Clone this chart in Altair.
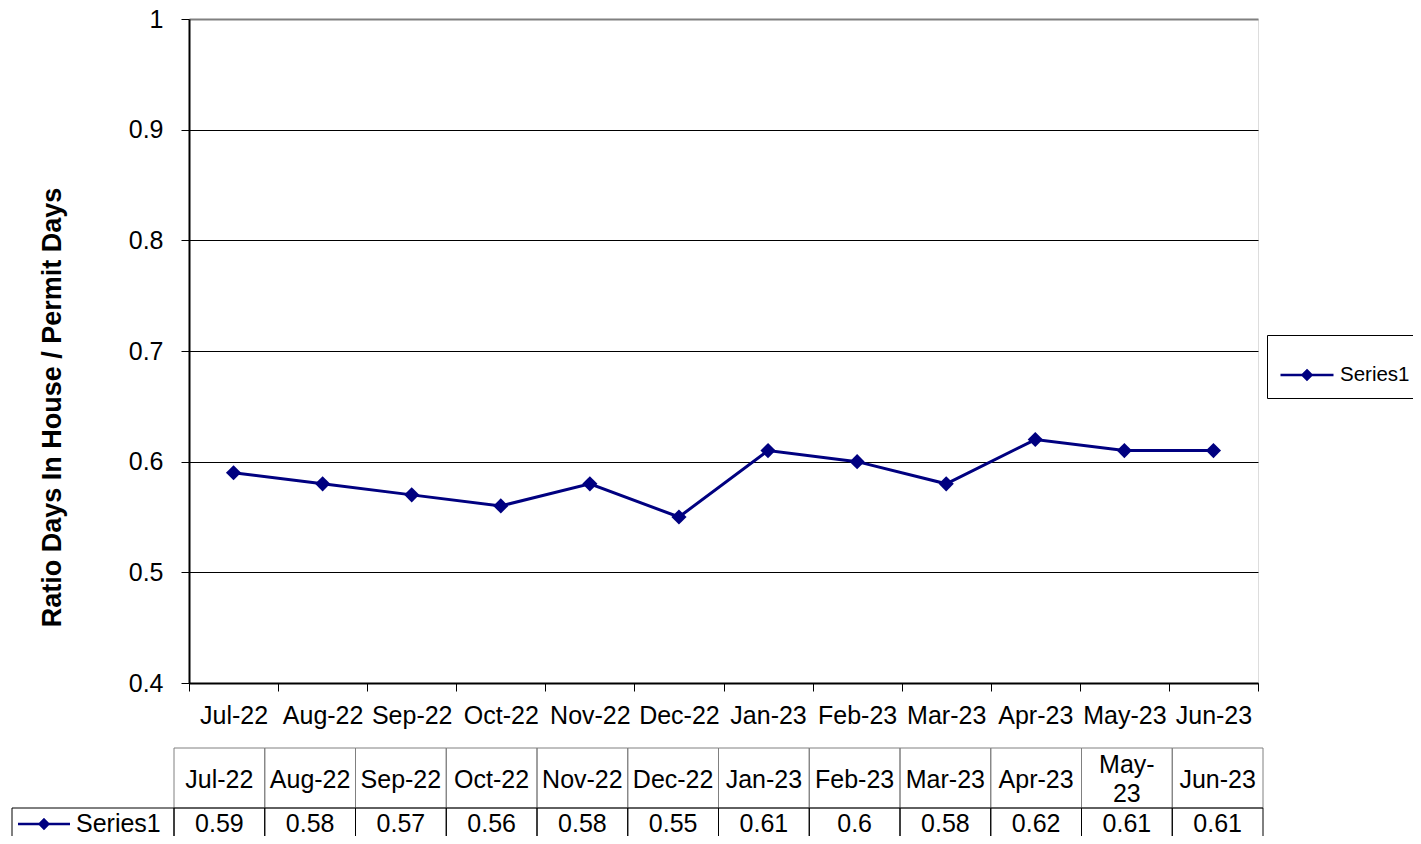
import altair as alt
import pandas as pd

months = ["Jul-22", "Aug-22", "Sep-22", "Oct-22", "Nov-22", "Dec-22",
          "Jan-23", "Feb-23", "Mar-23", "Apr-23", "May-23", "Jun-23"]
values = [0.59, 0.58, 0.57, 0.56, 0.58, 0.55, 0.61, 0.60, 0.58, 0.62, 0.61, 0.61]
table_headers = ["Jul-22", "Aug-22", "Sep-22", "Oct-22", "Nov-22", "Dec-22",
                 "Jan-23", "Feb-23", "Mar-23", "Apr-23", "May-\n23", "Jun-23"]
y_ticks = [0.4, 0.5, 0.6, 0.7, 0.8, 0.9, 1.0]
series_name = "Series1"
y_title = "Ratio Days In House / Permit Days"

NAVY = "#000080"
FONT = "Liberation Sans"
KEY_PATH = "M-1,0H1M0,-0.17L0.17,0L0,0.17L-0.17,0Z"

df = pd.DataFrame({"month": months, "value": values,
                   "header": table_headers, "series": series_name})
base = alt.Chart(df)

x_plot = alt.X("month:N", sort=months, title=None,
               scale=alt.Scale(type="band", paddingInner=0, paddingOuter=0),
               axis=alt.Axis(labelAngle=0, labelFontSize=25, labelFont=FONT,
                             labelColor="black", tickBand="extent", tickSize=8,
                             tickColor="black", domainColor="black", domainWidth=2,
                             labelPadding=12, labelBaseline="top", grid=False))
y_plot = alt.Y("value:Q", title=y_title,
               scale=alt.Scale(domain=[0.4, 1.0], nice=False, zero=False),
               axis=alt.Axis(values=y_ticks, format="~g", labelFontSize=25,
                             labelFont=FONT, labelColor="black", tickSize=8,
                             tickColor="black", domainColor="black", domainWidth=2,
                             labelPadding=18, labelBaseline="middle",
                             gridColor=alt.condition("datum.value >= 1", alt.value("#808080"), alt.value("black")),
                             gridWidth=alt.condition("datum.value >= 1", alt.value(2), alt.value(1)),
                             titleFont=FONT, titleFontSize=27, titleFontWeight="bold",
                             titleColor="black", titleAngle=270, titleAlign="center",
                             titleBaseline="middle", titleX=-137, titleY=388))

line = base.mark_line(color=NAVY, strokeWidth=3).encode(x=x_plot, y=y_plot)
pts = base.mark_point(shape="diamond", size=230, filled=True, opacity=1).encode(
    x=x_plot, y=y_plot,
    color=alt.Color("series:N", scale=alt.Scale(range=[NAVY]),
                    legend=alt.Legend(orient="none", legendX=1078, legendY=316,
                                      title=None, symbolType=KEY_PATH, symbolSize=2809,
                                      symbolStrokeWidth=2.5, symbolStrokeColor=NAVY,
                                      symbolFillColor=NAVY, labelFont=FONT,
                                      labelFontSize=20.5, labelColor="black",
                                      labelOffset=5, strokeColor="black",
                                      fillColor="white", padding=12, cornerRadius=0)))
main = alt.layer(line, pts)

tbl_x = alt.X("month:N", sort=months,
              scale=alt.Scale(type="band", domain=months, range=[-15, 1074],
                              paddingInner=0, paddingOuter=0),
              axis=None)

header_rect = base.mark_rect(fill="transparent", stroke="#808080", strokeWidth=1).encode(
    x=tbl_x, y=alt.value(729), y2=alt.value(789))
value_rect = base.mark_rect(fill="transparent", stroke="black", strokeWidth=1).encode(
    x=tbl_x, y=alt.value(789), y2=alt.value(845))
header_text_1 = base.transform_filter("indexof(datum.header, '\\n') < 0").mark_text(
    font=FONT, fontSize=25, color="black", baseline="middle").encode(
    x=tbl_x, y=alt.value(761), text="header:N")
header_text_2 = base.transform_filter("indexof(datum.header, '\\n') >= 0").mark_text(
    font=FONT, fontSize=25, color="black", lineBreak="\n", lineHeight=29,
    baseline="middle").encode(
    x=tbl_x, y=alt.value(746), text="header:N")
value_text = base.mark_text(font=FONT, fontSize=25, color="black", baseline="middle").encode(
    x=tbl_x, y=alt.value(805), text=alt.Text("value:Q", format="~g"))

key_df = pd.DataFrame({"series": [series_name]})
key_base = alt.Chart(key_df)
key_rect = key_base.mark_rect(fill="transparent", stroke="black", strokeWidth=1).encode(
    x=alt.value(-177), x2=alt.value(-15), y=alt.value(789), y2=alt.value(845))
key_sym = key_base.mark_point(shape=KEY_PATH, size=2704, filled=True, fill=NAVY,
                              stroke=NAVY, strokeWidth=2.5, opacity=1).encode(
    x=alt.value(-145), y=alt.value(805))
key_text = key_base.mark_text(font=FONT, fontSize=25, color="black", align="left",
                              baseline="middle").encode(
    x=alt.value(-113), y=alt.value(805), text="series:N")

chart = alt.layer(main, header_rect, value_rect, header_text_1, header_text_2, value_text,
                  key_rect, key_sym, key_text).resolve_scale(x="independent").properties(
    width=1069, height=664,
    padding={"left": 181, "top": 11, "right": 155, "bottom": 153},
    autosize=alt.AutoSizeParams(type="none"),
).configure_view(stroke="#808080", strokeWidth=2).configure(font=FONT, background="white")

chart.save("out.html", embed_options={"renderer": "svg", "actions": False})
